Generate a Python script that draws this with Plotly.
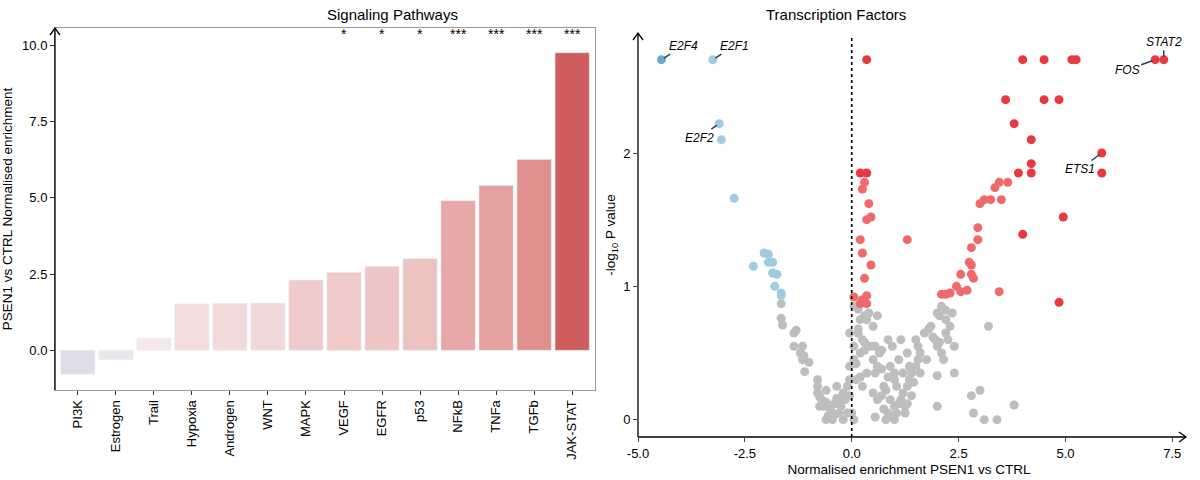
import plotly.graph_objects as go

pathways = ["PI3K","Estrogen","Trail","Hypoxia","Androgen","WNT","MAPK","VEGF","EGFR","p53","NFkB","TNFa","TGFb","JAK-STAT"]
enrichment = [-0.78,-0.3,0.4,1.52,1.53,1.55,2.3,2.55,2.75,3.0,4.9,5.4,6.25,9.75]
stars = ["","","","","","","","*","*","*","***","***","***","***"]
bar_colors = ["#e0dcea","#ebe6ec","#f3e9eb","#f3dcdc","#f2dad9","#f2d9d9","#efcccb","#efcac9","#eec6c5","#edc3c2","#e6a7a6","#e5a09f","#e08f8e","#cf5d5e"]

blue_x = [-4.45,-3.25,-3.1,-3.05,-2.75,-2.3,-2.05,-1.95,-1.95,-1.85,-1.85,-1.75,-1.8,-1.65,-1.65]
blue_y = [2.7,2.7,2.22,2.1,1.66,1.15,1.25,1.24,1.18,1.18,1.1,1.09,1.0,0.95,0.93]
red_x = [0.35,4.0,4.5,5.15,5.25,7.1,7.3,3.6,4.5,4.85,3.8,4.2,5.85,4.2,4.2,3.9,5.85,0.2,0.35,0.3,0.25,3.45,3.65,3.35,3.1,3.25,3.0,3.5,0.4,0.45,0.35,4.95,2.95,4.0,0.2,1.3,2.95,2.8,0.25,0.45,2.75,2.8,2.55,2.8,2.85,0.3,2.45,2.55,2.7,3.45,2.1,2.2,2.3,0.05,0.25,0.35,0.3,0.35,0.2,4.85]
red_y = [2.7,2.7,2.7,2.7,2.7,2.7,2.7,2.4,2.4,2.4,2.22,2.1,2.0,1.92,1.85,1.85,1.85,1.85,1.85,1.78,1.73,1.78,1.78,1.74,1.65,1.65,1.62,1.65,1.62,1.52,1.5,1.52,1.44,1.39,1.35,1.35,1.35,1.29,1.25,1.16,1.18,1.16,1.09,1.09,1.06,1.06,1.0,0.96,0.97,0.96,0.94,0.94,0.95,0.92,0.9,0.93,0.88,0.87,0.87,0.88]
grey_pts = [(-1.65,0.87),(-1.65,0.76),(-1.62,0.71),(-1.35,0.65),(-1.3,0.67),(-1.35,0.55),(-1.15,0.55),(-1.2,0.5),(-1.12,0.48),(-1.15,0.45),(-1.0,0.43),(-1.1,0.36),(-0.8,0.3),(-0.8,0.25),(-0.8,0.2),(-0.75,0.17),(-0.7,0.15),(-0.75,0.1),(-0.6,0.13),(-0.5,0.08),(-0.55,0.03),(-0.45,0.0),(-0.6,0.0),(-0.4,0.12),(-0.35,0.16),(-0.3,0.05),(-0.3,0.12),(-0.2,0.2),(-0.25,0.1),(-0.1,0.25),(-0.05,0.3),(-0.1,0.05),(-0.15,0.15),(-0.05,0.18),(0.0,0.05),(0.05,0.0),(-0.35,0.25),(-0.6,0.22),(-0.65,0.1),(-0.4,0.04),(-0.2,0.0),(-0.05,0.65),(-0.05,0.4),(0.05,0.45),(0.05,0.55),
(0.05,0.85),(0.15,0.83),(0.2,0.75),(0.3,0.78),(0.4,0.8),(0.35,0.75),(0.5,0.7),(0.6,0.78),(0.15,0.65),(0.25,0.6),(0.2,0.5),(0.3,0.52),(0.1,0.42),(0.55,0.55),(0.45,0.55),(0.65,0.5),(0.5,0.45),(0.7,0.52),(0.6,0.4),(0.55,0.35),(0.7,0.38),(0.2,0.32),(0.1,0.3),(0.25,0.25),(0.35,0.35),(0.85,0.6),(0.95,0.55),(0.9,0.4),(0.85,0.32),(1.0,0.35),(0.75,0.25),(0.5,0.2),(0.6,0.15),(0.7,0.18),(0.8,0.22),(0.9,0.15),(1.0,0.1),(1.05,0.05),(0.95,0.02),(0.85,0.05),(0.75,0.08),(0.55,0.02),(1.1,0.12),(1.2,0.2),(1.25,0.1),(1.3,0.25),(1.35,0.3),(1.4,0.35),(1.45,0.28),(1.5,0.4),(1.55,0.45),(1.6,0.5),(1.5,0.6),(1.55,0.55),(1.7,0.65),(1.8,0.68),(1.85,0.7),(1.9,0.62),(1.95,0.6),(2.0,0.55),(2.05,0.58),(2.1,0.5),(2.15,0.45),(2.2,0.75),(2.2,0.65),(2.25,0.6),(2.3,0.7),(2.35,0.8),(2.4,0.55),(2.2,0.82),(2.1,0.85),(2.05,0.78),(2.0,0.8),(2.0,0.33),(1.75,0.45),(1.6,0.35),(1.3,0.5),(1.35,0.4),(1.15,0.6),(1.1,0.45),(1.2,0.35),(1.0,0.3),(1.05,0.25),(1.15,0.15),(1.3,0.12),(1.4,0.18),(1.25,0.05),(1.0,0.0),(0.8,0.0),(2.0,0.1),(2.4,0.35),(2.8,0.18),(2.85,0.05),(3.0,0.22),(3.1,0.0),(3.2,0.7),(3.4,0.0),(3.8,0.11),(0.15,0.68),(0.3,0.58)]
grey_x = [p[0] for p in grey_pts]
grey_y = [p[1] for p in grey_pts]
labels = ["E2F4","E2F1","E2F2","FOS","STAT2","ETS1"]
label_x = [-4.45,-3.25,-3.1,7.1,7.3,5.85]
label_y = [2.7,2.7,2.22,2.7,2.7,2.0]
label_off = [(22,-14),(22,-14),(-20,14),(-28,10),(0,-18),(-22,16)]

W, H = 1200, 480
def px(x): return x / W
def py(y): return 1 - y / H

font = "Liberation Sans, Arial, sans-serif"
fig = go.Figure()
fig.add_trace(go.Bar(x=pathways, y=enrichment, marker_color=bar_colors, width=0.9, xaxis="x", yaxis="y", showlegend=False))
fig.add_trace(go.Scatter(x=grey_x, y=grey_y, mode="markers", marker=dict(color="#bebebe", size=9), xaxis="x2", yaxis="y2", showlegend=False))
fig.add_trace(go.Scatter(x=blue_x, y=blue_y, mode="markers", marker=dict(color=["#6fa8cc"]+["#9fcbe3"]*14, size=9), xaxis="x2", yaxis="y2", showlegend=False))
fig.add_trace(go.Scatter(x=red_x, y=red_y, mode="markers", marker=dict(color=["#e8393e" if v >= 1.8 or x > 3.9 else "#f06a6a" for x, v in zip(red_x, red_y)], size=9), xaxis="x2", yaxis="y2", showlegend=False))

ann = []
for i, s in enumerate(stars):
    if s:
        ann.append(dict(x=pathways[i], y=10.35, text=s, showarrow=False, xref="x", yref="y", font=dict(size=14, color="black")))
for t, x, y, (ax, ay) in zip(labels, label_x, label_y, label_off):
    ann.append(dict(x=x, y=y, text="<i>"+t+"</i>", xref="x2", yref="y2", showarrow=True, arrowhead=0, arrowwidth=1.5, ax=ax, ay=ay, font=dict(size=12, color="black"), standoff=3))
ann += [
    dict(x=0.271, y=py(14), xref="paper", yref="paper", yanchor="middle", text="Signaling Pathways", showarrow=False, font=dict(size=15)),
    dict(x=0.757, y=py(14), xref="paper", yref="paper", yanchor="middle", text="Transcription Factors", showarrow=False, font=dict(size=15)),
]

def arrow_up(x, y):
    return dict(type="path", xref="paper", yref="paper",
                path=f"M {px(x-5)},{py(y+7)} L {px(x)},{py(y)} L {px(x+5)},{py(y+7)}",
                line=dict(color="black", width=1.3))
def arrow_right(x, y):
    return dict(type="path", xref="paper", yref="paper",
                path=f"M {px(x-7)},{py(y-5)} L {px(x)},{py(y)} L {px(x-7)},{py(y+5)}",
                line=dict(color="black", width=1.3))

shapes = [
    dict(type="line", xref="paper", yref="paper", x0=px(55), x1=px(55), y0=py(390), y1=py(28), line=dict(color="black", width=1.3)),
    arrow_up(55, 28),
    dict(type="line", xref="paper", yref="paper", x0=px(638), x1=px(638), y0=py(437), y1=py(33), line=dict(color="black", width=1.3)),
    arrow_up(638, 33),
    dict(type="line", xref="paper", yref="paper", x0=px(638), x1=px(1186), y0=py(437), y1=py(437), line=dict(color="black", width=1.3)),
    arrow_right(1186, 437),
    dict(type="line", xref="x2", yref="paper", x0=0, x1=0, y0=py(437), y1=py(37), line=dict(color="black", width=1.6, dash="dot")),
]

fig.update_layout(
    width=W, height=H, paper_bgcolor="white", plot_bgcolor="white",
    margin=dict(l=0, r=0, t=0, b=0),
    font=dict(family=font, size=13, color="black"),
    xaxis=dict(domain=[px(55), px(595)], automargin=False, showline=True, linecolor="#999", mirror=True, ticks="outside", ticklen=4, tickcolor="#333", tickangle=-90, range=[-0.6, 13.6]),
    yaxis=dict(domain=[py(390), py(28)], automargin=False, range=[-1.3, 10.56], tickvals=[0, 2.5, 5, 7.5, 10], ticktext=["0.0","2.5","5.0","7.5","10.0"], showline=True, linecolor="#999", mirror=True, ticks="outside", ticklen=4, tickcolor="#333", showgrid=False, zeroline=False, title=dict(text="PSEN1 vs CTRL Normalised enrichment", standoff=10, font=dict(size=13.5))),
    xaxis2=dict(domain=[px(638), px(1180)], anchor="y2", automargin=False, range=[-5.0, 7.68], tickvals=[-5, -2.5, 0, 2.5, 5, 7.5], ticktext=["-5.0","-2.5","0.0","2.5","5.0","7.5"], showline=False, ticks="outside", ticklen=4, showgrid=False, zeroline=False, title=dict(text="Normalised enrichment PSEN1 vs CTRL", standoff=4, font=dict(size=13.5))),
    yaxis2=dict(domain=[py(437), py(33)], anchor="x2", automargin=False, range=[-0.13, 2.9], tickvals=[0, 1, 2], showline=False, ticks="outside", ticklen=4, showgrid=False, zeroline=False, title=dict(text="-log<sub>10</sub> P value", standoff=4, font=dict(size=13.5))),
    annotations=ann,
    shapes=shapes,
    bargap=0.1,
)
html = fig.to_html(include_plotlyjs=True, full_html=True, config={"displayModeBar": False})
html = html.replace("<head>", "<head><style>html,body{margin:0;padding:0;overflow:hidden}</style>", 1)
with open("out.html", "w", encoding="utf-8") as f:
    f.write(html)
